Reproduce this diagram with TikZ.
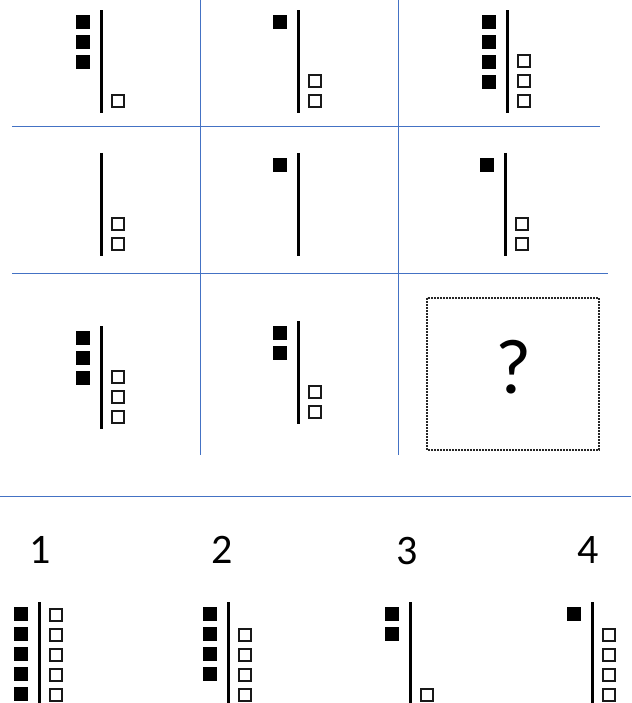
\documentclass[tikz,border=0pt]{standalone}
\usepackage{fontspec}
\setmainfont{Carlito}
\definecolor{gridblue}{RGB}{68,114,196}
\tikzset{
  barline/.style={line width=3pt, black},
  gridline/.style={line width=1pt, gridblue},
  hollowsq/.style={draw=black!90, line width=1.8pt, fill=white},
  blacksq/.style={fill=black},
  qbox/.style={draw=black!85, line width=1.6pt, dash pattern=on 2pt off 1pt},
  optlabel/.style={font=\fontsize{42}{42}\selectfont, inner sep=0pt},
}
\newcommand\abacusfig[6]{%
  \coordinate (#6top) at (#1,#2);
  \coordinate (#6bot) at (#1,#3);
  \draw[barline] (#6top) -- (#6bot);
  \ifnum#4>0
    \foreach \k in {1,...,#4}{\fill[blacksq] ({#1-25},{#2-15+20*\k}) rectangle ++(14,14);}%
  \fi
  \ifnum#5>0
    \foreach \k in {1,...,#5}{\draw[hollowsq] ({#1+10.9},{#3+1.9-20*\k}) rectangle ++(12.2,12.2);}%
  \fi
}
\begin{document}
\begin{tikzpicture}[x=1pt,y=-1pt]
\useasboundingbox (0,0) rectangle (631,703);
% grid lines
\coordinate (v1a) at (200,0); \coordinate (v1b) at (200,455);
\coordinate (v2a) at (398,0); \coordinate (v2b) at (398,455);
\coordinate (h1a) at (12,127); \coordinate (h1b) at (600,127);
\coordinate (h2a) at (12,273); \coordinate (h2b) at (608,273);
\coordinate (h3a) at (0,496.8); \coordinate (h3b) at (631,496.8);
\draw[gridline] (v1a) -- (v1b);
\draw[gridline] (v2a) -- (v2b);
\draw[gridline] (h1a) -- (h1b);
\draw[gridline] (h2a) -- (h2b);
\draw[gridline, line width=1.3pt] (h3a) -- (h3b);
% row 1
\abacusfig{101}{10.5}{113}{3}{1}{ra}
\abacusfig{298}{10.5}{113}{1}{2}{rb}
\abacusfig{507}{10.5}{113}{4}{3}{rc}
% row 2
\abacusfig{101}{153}{256}{0}{2}{sa}
\abacusfig{298}{153}{256}{1}{0}{sb}
\abacusfig{505}{153}{256}{1}{2}{sc}
% row 3
\abacusfig{101}{326}{429}{3}{3}{ta}
\abacusfig{298}{321}{424}{2}{2}{tb}
% question box
\draw[qbox] (427,298) rectangle (599,450);
\node[font=\fontsize{78}{78}\selectfont, inner sep=0pt] (qmark) at (514,367) {?};
% options
\node[optlabel] (lab1) at (40,550) {1};
\node[optlabel] (lab2) at (222,550) {2};
\node[optlabel] (lab3) at (407,551) {3};
\node[optlabel] (lab4) at (588,550) {4};
\abacusfig{39}{602}{707}{5}{5}{oa}
\abacusfig{228}{602}{707}{4}{4}{ob}
\abacusfig{410}{602}{707}{2}{1}{oc}
\abacusfig{592}{602}{707}{1}{4}{od}
\end{tikzpicture}
\end{document}
